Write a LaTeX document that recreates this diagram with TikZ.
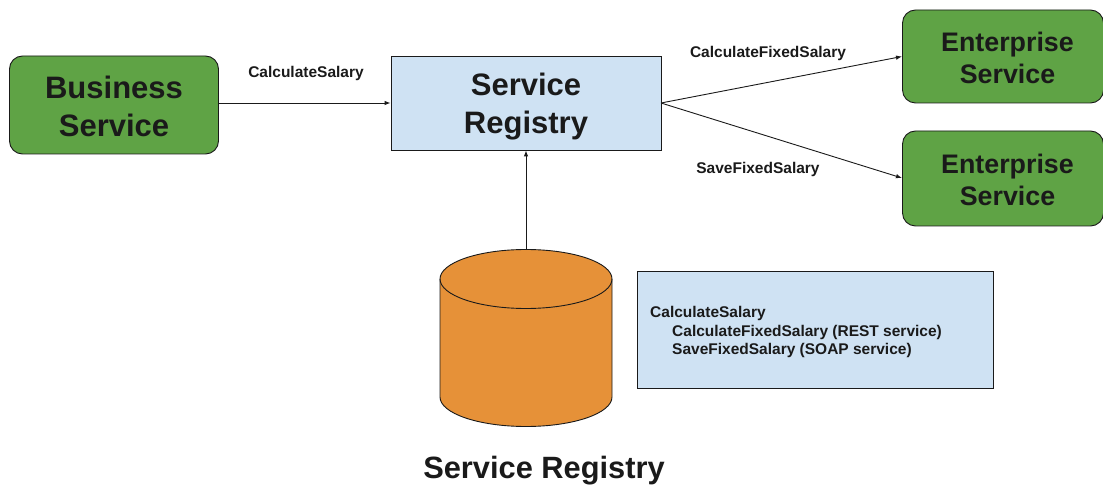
\documentclass[tikz,border=0pt]{standalone}
\usepackage{fontspec}
\setmainfont{Liberation Sans}
\usetikzlibrary{arrows.meta}
\definecolor{grn}{HTML}{5FA345}
\definecolor{blu}{HTML}{CFE2F3}
\definecolor{org}{HTML}{E69138}
\definecolor{ink}{HTML}{1A1A1A}
\tikzset{
  svc/.style={draw=ink,line width=0.9pt,fill=grn,rounded corners=13pt,align=center,text=ink,inner sep=0pt},
  reg/.style={draw=ink,line width=0.9pt,fill=blu,inner sep=0pt,text=ink},
  conn/.style={draw=ink,line width=0.9pt,-{Latex[length=6pt,width=4.5pt]}},
  lab/.style={font=\bfseries\fontsize{15.5}{18}\selectfont,inner sep=0pt,anchor=center,text=ink}
}
\begin{document}
\begin{tikzpicture}[x=1pt,y=-1pt]
\useasboundingbox[fill=white] (0,0) rectangle (1103,486);
\node[svc,minimum width=209pt,minimum height=98pt,font=\bfseries\fontsize{31}{38}\selectfont] (bs) at (114,105) {\rule{0pt}{26pt}Business\\Service};
\node[reg,minimum width=270pt,minimum height=94pt,align=center,font=\bfseries\fontsize{31}{38}\selectfont] (sr) at (526,103) {\rule{0pt}{30pt}Service\\Registry};
\node[svc,minimum width=201pt,minimum height=93pt,font=\bfseries\fontsize{26.8}{32}\selectfont] (e1) at (1003,56.5) {\rule{0pt}{22pt}\hspace*{9pt}Enterprise\\\hspace*{9pt}Service};
\node[svc,minimum width=201pt,minimum height=95pt,font=\bfseries\fontsize{26.8}{32}\selectfont] (e2) at (1003,178.5) {\rule{0pt}{22pt}\hspace*{9pt}Enterprise\\\hspace*{9pt}Service};
\coordinate (srr) at (661,103);
\coordinate (e1l) at (902,56.5);
\coordinate (e2l) at (902,178);
\coordinate (dbtop) at (526,250);
\draw[conn] (sr.west -| bs.east) -- (sr.west);
\draw[conn] (srr) -- (e1l);
\draw[conn] (srr) -- (e2l);
\draw[conn] (dbtop) -- (sr.south);
\draw[draw=ink,line width=0.9pt,fill=org] (440,279) arc[start angle=180,end angle=360,x radius=86,y radius=29.5]
  -- (612,397) arc[start angle=0,end angle=180,x radius=86,y radius=29.5] -- cycle;
\draw[draw=ink,line width=0.9pt] (440,279) arc[start angle=180,end angle=0,x radius=86,y radius=29.5];
\node[reg,minimum width=356pt,minimum height=117pt] (box) at (815,330) {};
\node[lab,anchor=west] (t0) at (650,313) {CalculateSalary};
\node[lab,anchor=west] (t1) at (672,332) {CalculateFixedSalary (REST service)};
\node[lab,anchor=west] (t2) at (672,350) {SaveFixedSalary (SOAP service)};
\node[lab] (l1) at (306,73) {CalculateSalary};
\node[lab] (l2) at (768,53) {CalculateFixedSalary};
\node[lab] (l3) at (758,169) {SaveFixedSalary};
\node[font=\bfseries\fontsize{30.8}{36}\selectfont,inner sep=0pt,text=ink] (cap) at (544,471) {Service Registry};
\end{tikzpicture}
\end{document}
